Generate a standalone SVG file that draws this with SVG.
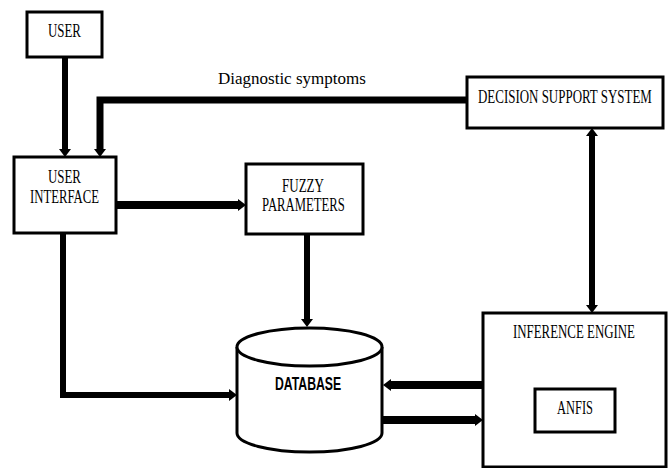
<svg xmlns="http://www.w3.org/2000/svg" width="670" height="468" viewBox="0 0 670 468">
<style>
.box{fill:#fff;stroke:#000;stroke-width:3}
.lbl{font-family:"Liberation Serif","Times New Roman",serif;font-size:18px;fill:#000}
.cap{font-family:"Liberation Serif","Times New Roman",serif;font-size:17px;fill:#000}
.db{font-family:"Liberation Sans",Arial,sans-serif;font-weight:bold;font-size:18px;fill:#000}
.con{fill:none;stroke:#000;stroke-linejoin:miter}
</style>
<defs>
<marker id="ah" viewBox="0 0 8 12" refX="0" refY="6" markerWidth="8" markerHeight="12" markerUnits="userSpaceOnUse" orient="auto-start-reverse">
<path d="M0,0 L8,6 L0,12 z" fill="#000"/>
</marker>
</defs>
<rect width="670" height="468" fill="#fff"/>
<g id="connectors">
<path class="con" stroke-width="6" d="M65,57 V149" marker-end="url(#ah)"/>
<path class="con" stroke-width="7" d="M467,100 H100 V149" marker-end="url(#ah)"/>
<path class="con" stroke-width="8" d="M116,205 H238" marker-end="url(#ah)"/>
<path class="con" stroke-width="6" d="M307,234 V319" marker-end="url(#ah)"/>
<path class="con" stroke-width="6" d="M63,233 V395 H229" marker-end="url(#ah)"/>
<path class="con" stroke-width="8" d="M483,385 H391" marker-end="url(#ah)"/>
<path class="con" stroke-width="8" d="M383,420 H475" marker-end="url(#ah)"/>
<path class="con" stroke-width="6" d="M592,136 V305" marker-start="url(#ah)" marker-end="url(#ah)"/>
<text class="cap" x="218" y="84">Diagnostic symptoms</text>
</g>
<g id="user">
<rect class="box" x="27" y="12" width="75" height="45"/>
<text class="lbl" transform="translate(48,37) scale(0.717,1)">USER</text>
</g>
<g id="user-interface">
<rect class="box" x="14" y="157" width="102" height="76"/>
<text class="lbl" transform="translate(48,183) scale(0.717,1)">USER</text>
<text class="lbl" transform="translate(30,203) scale(0.707,1)">INTERFACE</text>
</g>
<g id="decision-support-system">
<rect class="box" x="467" y="77" width="196" height="51"/>
<text class="lbl" transform="translate(478,103) scale(0.72,1)">DECISION SUPPORT SYSTEM</text>
</g>
<g id="fuzzy-parameters">
<rect class="box" x="246" y="164" width="117" height="70"/>
<text class="lbl" transform="translate(282,192) scale(0.724,1)">FUZZY</text>
<text class="lbl" transform="translate(262,211) scale(0.706,1)">PARAMETERS</text>
</g>
<g id="database">
<path class="box" d="M237,347 V433 A72.5,19 0 0 0 382,433 V347"/>
<ellipse class="box" cx="309.5" cy="347" rx="72.5" ry="19"/>
<text class="db" transform="translate(275,390) scale(0.68,1)">DATABASE</text>
</g>
<g id="inference-engine">
<rect class="box" x="483" y="313" width="183" height="154"/>
<text class="lbl" transform="translate(513,338) scale(0.716,1)">INFERENCE ENGINE</text>
</g>
<g id="anfis">
<rect class="box" x="535" y="389" width="80" height="43"/>
<text class="lbl" transform="translate(557,414) scale(0.692,1)">ANFIS</text>
</g>
</svg>
